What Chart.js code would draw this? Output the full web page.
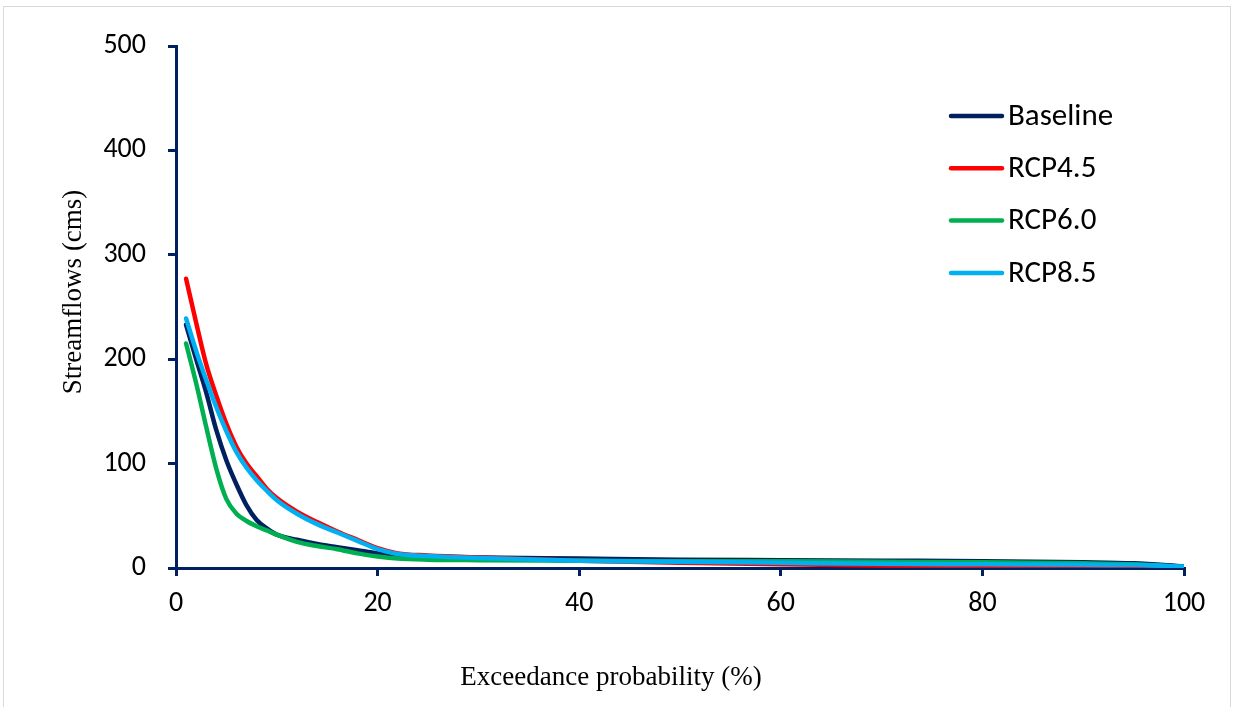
<!DOCTYPE html>
<html>
<head>
<meta charset="utf-8">
<script src="https://cdn.jsdelivr.net/npm/chart.js@4/dist/chart.umd.min.js"></script>
<style>
  html, body { margin: 0; padding: 0; background: #fff; }
  #wrap { position: relative; width: 1236px; height: 707px; }
  #frame { position: absolute; left: 3px; top: 6px; width: 1228px; height: 720px; border: 1px solid #d9d9d9; box-sizing: border-box; }
  canvas { position: absolute; left: 0; top: 0; }
</style>
</head>
<body>
<div id="wrap">
  <div id="frame"></div>
  <canvas id="c" width="1236" height="707"></canvas>
</div>
<script>
const exceedance = [1,2,3,4,5,6,7,8,9,10,12,14,16,18,20,22,25,30,40,50,60,70,80,90,95,100];
const baseline = [233,200,168,132,103,80,60,46,38,32,27,23,20,17,14,12,11,10,9,8,7.5,7,6.5,5.5,4.5,1.5];
const rcp45    = [277,235,195,165,138,116,100,88,76,67,54,44,35,27,19,14,12,10,7,5,3.5,2.5,2,1.5,1.2,0.5];
const rcp60    = [215,177,135,95,66,52,45,40,36,32,25,21,18,14,11,9,8,7.5,7,6.5,6.5,6,5.5,4.5,3.5,1];
const rcp85    = [239,208,180,154,131,111,96,84,74,65,52,42,34,26,18,13.5,11.5,9.5,7,6,5,4,3.5,3,2.8,1.5];
const seriesNames = ['Baseline','RCP4.5','RCP6.0','RCP8.5'];
const seriesColors = ['#002060','#FF0000','#00B050','#00B0F0'];
const yTicks = [0,100,200,300,400,500];
const xTicks = [0,20,40,60,80,100];
const xTitle = 'Exceedance probability (%)';
const yTitle = 'Streamflows (cms)';

const allSeries = [baseline, rcp45, rcp60, rcp85];
const navy = '#002060';
const sansFamily = "Carlito, Calibri, Lato, 'Open Sans', sans-serif";
const tickFont = { family: sansFamily, size: 28 };
const legendFont = { family: sansFamily, size: 31 };
const titleFamily = "'Palatino Linotype', 'Book Antiqua', 'Liberation Serif', 'DejaVu Serif', serif";
const titleSize = 27;

const datasets = allSeries.map((vals, i) => ({
  label: seriesNames[i],
  data: exceedance.map((x, j) => ({ x: x, y: vals[j] })),
  borderColor: seriesColors[i],
  backgroundColor: seriesColors[i],
  borderWidth: 4.5,
  pointRadius: 0,
  fill: false,
  cubicInterpolationMode: 'monotone',
  order: allSeries.length - i,
  borderCapStyle: 'round',
  borderJoinStyle: 'round'
}));

const decorPlugin = {
  id: 'decor',
  afterDatasetsDraw(chart) {
    const ctx = chart.ctx;
    ctx.save();
    ctx.font = `${legendFont.size}px ${legendFont.family}`;
    ctx.textBaseline = 'middle';
    ctx.textAlign = 'left';
    chart.data.datasets.forEach((ds, i) => {
      const y = 116 + i * 52.3;
      ctx.strokeStyle = ds.borderColor;
      ctx.lineWidth = 4.5;
      ctx.lineCap = 'round';
      ctx.beginPath();
      ctx.moveTo(951, y);
      ctx.lineTo(1002, y);
      ctx.stroke();
      ctx.fillStyle = '#000';
      ctx.fillText(ds.label, 1008, y + 1);
    });
    ctx.font = `${titleSize}px ${titleFamily}`;
    ctx.fillStyle = '#000';
    ctx.textAlign = 'center';
    ctx.textBaseline = 'middle';
    ctx.fillText(xTitle, 611, 678);
    ctx.translate(74, 292);
    ctx.rotate(-Math.PI / 2);
    ctx.fillText(yTitle, 0, 0);
    ctx.restore();
  }
};

new Chart(document.getElementById('c'), {
  type: 'line',
  data: { datasets },
  options: {
    responsive: false,
    animation: false,
    events: [],
    layout: { padding: { top: 46, right: 52, left: 0, bottom: 0 } },
    plugins: { legend: { display: false }, tooltip: { enabled: false } },
    scales: {
      x: {
        type: 'linear',
        min: 0, max: 100,
        afterBuildTicks(scale) { scale.ticks = xTicks.map(v => ({ value: v })); },
        afterFit(scale) { scale.height = 139; },
        ticks: { color: '#000', font: tickFont, padding: 11, maxRotation: 0 },
        grid: { drawOnChartArea: false, drawTicks: true, tickLength: 8, color: navy, lineWidth: 3 },
        border: { color: navy, width: 3 }
      },
      y: {
        type: 'linear',
        min: 0, max: 500,
        afterBuildTicks(scale) { scale.ticks = yTicks.map(v => ({ value: v })); },
        afterFit(scale) { scale.width = 176; },
        ticks: { color: '#000', font: tickFont, padding: 22 },
        grid: { drawOnChartArea: false, drawTicks: true, tickLength: 8, color: navy, lineWidth: 3 },
        border: { color: navy, width: 3 }
      }
    }
  },
  plugins: [decorPlugin]
});
</script>
</body>
</html>
